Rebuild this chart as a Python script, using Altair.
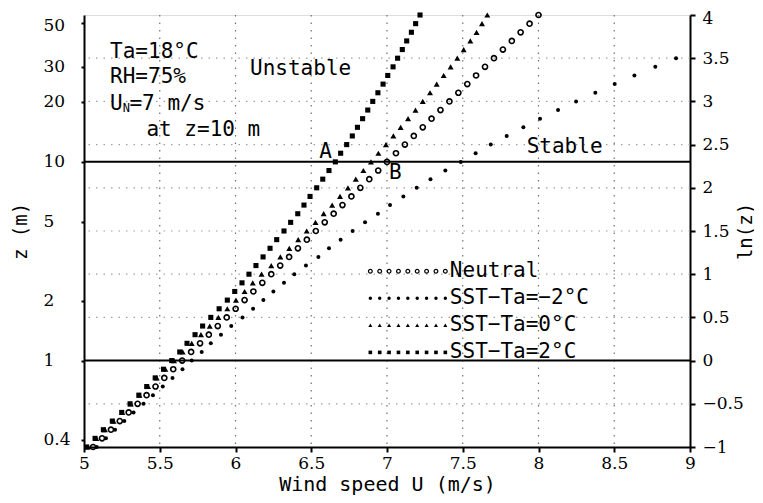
import altair as alt
import numpy as np
import pandas as pd

# ---------------- data ----------------
ln_z = [-1.0, -0.9, -0.8, -0.7, -0.6, -0.5, -0.4, -0.3, -0.2, -0.1,
        0.0, 0.1, 0.2, 0.3, 0.4, 0.5, 0.6, 0.7, 0.8, 0.9,
        1.0, 1.1, 1.2, 1.3, 1.4, 1.5, 1.6, 1.7, 1.8, 1.9,
        2.0, 2.1, 2.2, 2.3, 2.4, 2.5, 2.6, 2.7, 2.8, 2.9,
        3.0, 3.1, 3.2, 3.3, 3.4, 3.5, 3.6, 3.7, 3.8, 3.9, 4.0]

u_neutral = [5.060, 5.119, 5.178, 5.236, 5.295, 5.354, 5.413, 5.472, 5.530, 5.589,
             5.648, 5.707, 5.766, 5.824, 5.883, 5.942, 6.001, 6.060, 6.118, 6.177,
             6.236, 6.295, 6.354, 6.412, 6.471, 6.530, 6.589, 6.648, 6.706, 6.765,
             6.824, 6.883, 6.942, 7.000, 7.059, 7.118, 7.177, 7.236, 7.294, 7.353,
             7.412, 7.471, 7.530, 7.588, 7.647, 7.706, 7.765, 7.824, 7.882, 7.941,
             8.000]

# SST-Ta = -2 (stable); points above ln(z)=3.5 lie beyond 9 m/s
u_sst_m2 = [5.084, 5.145, 5.205, 5.266, 5.327, 5.393, 5.455, 5.520, 5.584, 5.650,
            5.711, 5.777, 5.837, 5.904, 5.972, 6.046, 6.116, 6.184, 6.250, 6.320,
            6.388, 6.465, 6.547, 6.617, 6.694, 6.773, 6.855, 6.940, 7.020, 7.108,
            7.196, 7.287, 7.385, 7.487, 7.585, 7.685, 7.790, 7.900, 8.010, 8.129,
            8.248, 8.375, 8.503, 8.633, 8.771, 8.908]

u_sst_0 = [5.024, 5.081, 5.138, 5.195, 5.252, 5.309, 5.366, 5.423, 5.480, 5.537,
           5.594, 5.651, 5.711, 5.772, 5.830, 5.887, 5.946, 6.003, 6.060, 6.114,
           6.172, 6.236, 6.296, 6.355, 6.414, 6.470, 6.528, 6.582, 6.638, 6.690,
           6.742, 6.794, 6.844, 6.894, 6.943, 6.993, 7.042, 7.090, 7.139, 7.188,
           7.236, 7.284, 7.328, 7.374, 7.420, 7.464, 7.506, 7.550, 7.591, 7.627,
           7.662]

u_sst_p2 = [5.018, 5.073, 5.128, 5.187, 5.249, 5.304, 5.362, 5.414, 5.470, 5.525,
            5.579, 5.632, 5.680, 5.733, 5.783, 5.837, 5.892, 5.946, 5.995, 6.043,
            6.089, 6.135, 6.182, 6.228, 6.272, 6.320, 6.364, 6.411, 6.452, 6.492,
            6.536, 6.576, 6.617, 6.659, 6.694, 6.734, 6.771, 6.805, 6.839, 6.873,
            6.906, 6.940, 6.974, 7.005, 7.040, 7.070, 7.101, 7.130, 7.161, 7.189,
            7.218]

series_names = ["Neutral", "SST\u2212Ta=\u22122\u00b0C", "SST\u2212Ta=0\u00b0C", "SST\u2212Ta=2\u00b0C"]

x_ticks = [5, 5.5, 6, 6.5, 7, 7.5, 8, 8.5, 9]
x_grid = [5.5, 6, 6.5, 7, 7.5, 8, 8.5]
z_tick_labels = [0.4, 1, 2, 5, 10, 20, 30, 50]
lnz_ticks = [-1, -0.5, 0, 0.5, 1, 1.5, 2, 2.5, 3, 3.5, 4]
lnz_grid = [-0.5, 0.5, 1, 1.5, 2, 2.5, 3, 3.5]
ref_heights_z = [1, 10]

# ---------------- style ----------------
MONO = "DejaVu Sans Mono"
SERIF = "DejaVu Serif"
W, H = 606, 432

xs = alt.Scale(domain=[5, 9], nice=False, zero=False)
ys = alt.Scale(domain=[-1, 4], nice=False, zero=False)

common_axis = dict(domainColor="black", domainWidth=2, tickColor="black", tickWidth=2,
                   labelFont=SERIF, labelFontSize=17, labelColor="black",
                   titleFont=MONO, titleFontWeight="normal",
                   titleColor="black", labelFlush=False, labelOverlap=False, grid=False)

x_axis = alt.Axis(values=x_ticks, format="~g", title="Wind speed U (m/s)",
                  tickSize=5, labelPadding=3, titleX=W / 2, titleY=37, titleFontSize=20,
                  titleBaseline="middle", titleAlign="center", **common_axis)

left_axis = alt.Axis(orient="left", values=[float(np.log(z)) for z in z_tick_labels],
                     labelExpr="format(exp(datum.value), '~g')", title="z (m)",
                     titleAngle=270, titleX=-64, titleY=H / 2, titleAlign="center",
                     titleBaseline="middle", titleFontSize=19, tickSize=3, labelAlign="left",
                     labelBaseline="middle", labelPadding=38,
                     labelOffset={"condition": {"test": "datum.value > 3.8", "value": 3}, "value": 0},
                     **common_axis)

right_axis = alt.Axis(orient="right", values=lnz_ticks, format="~g", title="ln(z)",
                      titleAngle=270, titleX=55, titleY=H / 2, titleAlign="center",
                      titleBaseline="middle", titleFontSize=19, tickSize=5, labelAlign="left",
                      labelBaseline="middle", labelPadding=7,
                      labelOffset={"condition": {"test": "datum.value > 3.9", "value": 3}, "value": 0},
                      **common_axis)

x_enc = alt.X("u:Q", scale=xs, axis=x_axis)


def y_enc(axis=None):
    return alt.Y("lnz:Q", scale=ys, axis=axis)


# grid lines
vgrid = alt.Chart(pd.DataFrame({"u": x_grid})).mark_rule(
    color="#707070", strokeWidth=1.2, strokeDash=[1.5, 6]).encode(x=x_enc)
hgrid = alt.Chart(pd.DataFrame({"lnz": lnz_grid})).mark_rule(
    color="#a0a0a0", strokeWidth=1.2, strokeDash=[1.5, 6]).encode(y=y_enc(left_axis))

# reference heights z = 1 m and z = 10 m
ref_lines = alt.Chart(pd.DataFrame({"lnz": [float(np.log(z)) for z in ref_heights_z]})).mark_rule(
    color="black", strokeWidth=2).encode(y=y_enc(right_axis))


def frame(values):
    return pd.DataFrame({"u": values, "lnz": ln_z[:len(values)]})


p_neutral = alt.Chart(frame(u_neutral)).mark_point(
    shape="circle", filled=False, color="black", strokeWidth=1.6, size=26, opacity=1
).encode(x=x_enc, y=y_enc())
p_m2 = alt.Chart(frame(u_sst_m2)).mark_point(
    shape="circle", filled=True, color="black", size=16, opacity=1
).encode(x=x_enc, y=y_enc())
p_0 = alt.Chart(frame(u_sst_0)).mark_point(
    shape="triangle-up", filled=True, color="black", size=36, opacity=1
).encode(x=x_enc, y=y_enc())
p_p2 = alt.Chart(frame(u_sst_p2)).mark_point(
    shape="square", filled=True, color="black", size=26, opacity=1
).encode(x=x_enc, y=y_enc())

# ---------------- legend (drawn inside the plot) ----------------
leg_rows = [1.034, 0.721, 0.408, 0.095]
leg_x = list(np.linspace(6.89, 7.385, 9))
leg_styles = [("circle", False, 14), ("circle", True, 12), ("triangle-up", True, 16), ("square", True, 13)]
legend_layers = []
for name, row, (shape, filled, size) in zip(series_names, leg_rows, leg_styles):
    d = pd.DataFrame({"u": leg_x, "lnz": [row] * len(leg_x)})
    kw = dict(shape=shape, filled=filled, color="black", size=size, opacity=1)
    if not filled:
        kw["strokeWidth"] = 1.2
    legend_layers.append(alt.Chart(d).mark_point(**kw).encode(x=x_enc, y=y_enc()))
leg_text = alt.Chart(pd.DataFrame({"u": [7.415] * 4, "lnz": leg_rows, "t": series_names})).mark_text(
    align="left", baseline="middle", font=MONO, fontSize=21, color="black"
).encode(x=x_enc, y=y_enc(), text="t:N")

# ---------------- annotations ----------------
ann = pd.DataFrame({
    "t": ["Ta=18\u00b0C", "RH=75%", "U", "N", "=7  m/s", "at  z=10  m", "Unstable", "Stable", "A", "B"],
    "u": [5.172, 5.172, 5.172, 5.255, 5.300, 5.412, 6.096, 7.922, 6.553, 7.013],
    "lnz": [3.57, 3.28, 2.97, 2.92, 2.97, 2.67, 3.37, 2.47, 2.41, 2.17],
    "fs": [21, 21, 21, 12, 21, 21, 21, 21, 21, 21],
})
ann_text = alt.Chart(ann).mark_text(
    align="left", baseline="middle", font=MONO, color="black"
).encode(x=x_enc, y=y_enc(), text="t:N", size=alt.Size("fs:Q", scale=None, legend=None))

chart = alt.layer(
    vgrid, hgrid, ref_lines, p_neutral, p_m2, p_0, p_p2, *legend_layers, leg_text, ann_text
).resolve_scale(y="independent").properties(
    width=W, height=H,
    autosize=alt.AutoSizeParams(type="none"),
    padding={"left": 76, "top": 7, "right": 64, "bottom": 48},
).configure_view(stroke="black", strokeWidth=2).configure(background="white")

chart.save("out.html", embed_options={"renderer": "svg", "actions": False})
